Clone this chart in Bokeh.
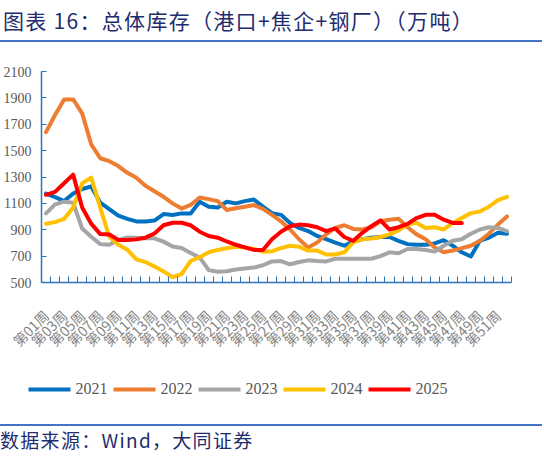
from math import pi
from bokeh.plotting import figure
from bokeh.layouts import column
from bokeh.models import Range1d, FixedTicker, Legend, LegendItem, Div
from bokeh.embed import file_html
from bokeh.resources import INLINE

# ---------------- data ----------------
weeks = [f"第{i:02d}周" for i in range(1, 53)]
week_no = list(range(1, 53))

y2021 = [1174, 1147, 1118, 1174, 1209, 1228, 1105, 1056, 1007, 982,
         963, 963, 970, 1019, 1012, 1024, 1024, 1112, 1075, 1068,
         1112, 1100, 1117, 1129, 1075, 1026, 1013, 952, 914, 890,
         853, 828, 803, 779, 812, 828, 840, 845, 845, 816,
         791, 786, 786, 796, 821, 779, 729, 697, 816, 840,
         877, 870]
y2022 = [1640, 1770, 1888, 1888, 1782, 1548, 1442, 1420, 1383, 1332,
         1295, 1233, 1192, 1150, 1100, 1061, 1088, 1145, 1132, 1117,
         1050, 1063, 1075, 1087, 1058, 1013, 964, 902, 828, 766,
         803, 865, 914, 934, 906, 902, 919, 964, 976, 984,
         919, 865, 828, 766, 729, 742, 761, 779, 816, 870,
         939, 1001]
y2023 = [1024, 1093, 1113, 1105, 909, 847, 791, 786, 823, 842,
         840, 835, 835, 810, 773, 761, 724, 690, 594, 581,
         586, 598, 606, 613, 631, 660, 663, 638, 655, 668,
         663, 660, 680, 680, 680, 680, 680, 700, 729, 722,
         754, 754, 747, 734, 779, 816, 828, 870, 902, 919,
         914, 889]
y2024 = [946, 958, 982, 1068, 1253, 1295, 1068, 847, 786, 749,
         675, 655, 621, 584, 540, 564, 663, 692, 729, 747,
         759, 771, 766, 754, 734, 737, 761, 779, 771, 742,
         742, 712, 712, 729, 806, 828, 833, 845, 865, 895,
         939, 952, 914, 919, 902, 952, 989, 1026, 1038, 1075,
         1124, 1149]
y2025 = [1165, 1187, 1253, 1318, 1068, 946, 867, 864, 823, 823,
         827, 840, 872, 934, 953, 953, 934, 885, 853, 840,
         811, 786, 766, 747, 747, 828, 885, 927, 939, 934,
         919, 890, 910, 845, 816, 877, 927, 971, 902, 919,
         944, 989, 1013, 1013, 976, 952, 952]

series_names = ["2021", "2022", "2023", "2024", "2025"]
series_values = [y2021, y2022, y2023, y2024, y2025]
series_colors = ["#0070C0", "#ED7D31", "#A5A5A5", "#FFC000", "#FF0000"]

y_ticks = [500, 700, 900, 1100, 1300, 1500, 1700, 1900, 2100]

title_text = "图表 16：总体库存（港口+焦企+钢厂）（万吨）"
source_text = "数据来源：Wind，大同证券"

W = 542
navy = "#1F2D6E"
rule_blue = "#4472C4"
axis_blue = "#2E75B6"

# ---------------- title ----------------
title_div = Div(text=title_text, width=W, height=42, margin=0,
                styles={"font-family": "'Noto Sans CJK SC'",
                        "font-size": "21px", "color": navy,
                        "letter-spacing": "1.3px", "padding-left": "3px",
                        "line-height": "40px", "white-space": "nowrap",
                        "border-bottom": f"2px solid {rule_blue}",
                        "box-sizing": "border-box"})

# ---------------- main chart ----------------
p = figure(width=W, height=318, output_backend="svg", toolbar_location=None,
           x_range=Range1d(0.5, 52.5), y_range=Range1d(500, 2100),
           min_border_left=39, min_border_right=W - 511,
           min_border_top=29, min_border_bottom=74, margin=0,
           frame_align=False)
p.outline_line_color = None
p.xgrid.visible = False
p.ygrid.visible = False

yax = p.yaxis[0]
yax.ticker = FixedTicker(ticks=y_ticks, minor_ticks=[])
yax.axis_line_color = axis_blue
yax.axis_line_width = 1.5
yax.major_tick_line_color = axis_blue
yax.major_tick_in = 5
yax.major_tick_out = 0
yax.minor_tick_line_color = None
yax.major_label_standoff = 10
yax.major_label_text_font = "Liberation Serif"
yax.major_label_text_font_size = "14px"
yax.major_label_text_color = "#595959"

xax = p.xaxis[0]
odd_weeks = week_no[::2]
xax.ticker = FixedTicker(ticks=odd_weeks,
                         minor_ticks=[w - 0.5 for w in week_no] + [52.5])
xax.major_label_overrides = {w: weeks[w - 1] for w in odd_weeks}
xax.axis_line_color = axis_blue
xax.axis_line_width = 1.5
xax.major_tick_in = 0
xax.major_tick_out = 0
xax.minor_tick_line_color = axis_blue
xax.minor_tick_in = 6
xax.minor_tick_out = 0
xax.major_label_orientation = pi / 4
xax.major_label_standoff = 30
xax.major_label_text_font = "Noto Sans CJK SC"
xax.major_label_text_font_size = "14px"
xax.major_label_text_color = "#858585"

for vals, col in zip(series_values, series_colors):
    p.line(week_no[:len(vals)], vals, line_color=col, line_width=4,
           line_join="round", line_cap="round")

# ---------------- legend strip ----------------
# ranges chosen so the helper lines themselves fall outside the view;
# they exist only to give the legend its glyph styles
lg = figure(width=W, height=64, output_backend="svg", toolbar_location=None,
            x_range=Range1d(-3, -2), y_range=Range1d(0, 1),
            x_axis_location=None, y_axis_location=None,
            min_border_left=0, min_border_right=W - 476,
            min_border_top=0, min_border_bottom=6, margin=0,
            frame_align=False)
lg.outline_line_color = None
lg.xgrid.visible = False
lg.ygrid.visible = False
items = []
for name, vals, col in zip(series_names, series_values, series_colors):
    r = lg.line(week_no[:len(vals)], vals, line_color=col, line_width=4,
                line_cap="round")
    items.append(LegendItem(label=name, renderers=[r]))
legend = Legend(items=items, orientation="horizontal", location="center",
                glyph_width=42, glyph_height=18, label_standoff=5,
                spacing=6, padding=0, margin=0,
                border_line_color=None, background_fill_alpha=0,
                label_text_font="Liberation Serif",
                label_text_font_size="16px", label_text_color="#595959")
lg.add_layout(legend)

# ---------------- source ----------------
source_div = Div(text=source_text, width=W, height=34, margin=0,
                 styles={"font-family": "'Noto Sans CJK SC'",
                         "font-size": "19px", "color": navy,
                         "letter-spacing": "1.3px",
                         "line-height": "28px", "white-space": "nowrap",
                         "border-top": f"2px solid {rule_blue}",
                         "box-sizing": "border-box"})

layout = column(title_div, p, lg, source_div, spacing=0)
open("out.html", "w").write(file_html(layout, INLINE))
